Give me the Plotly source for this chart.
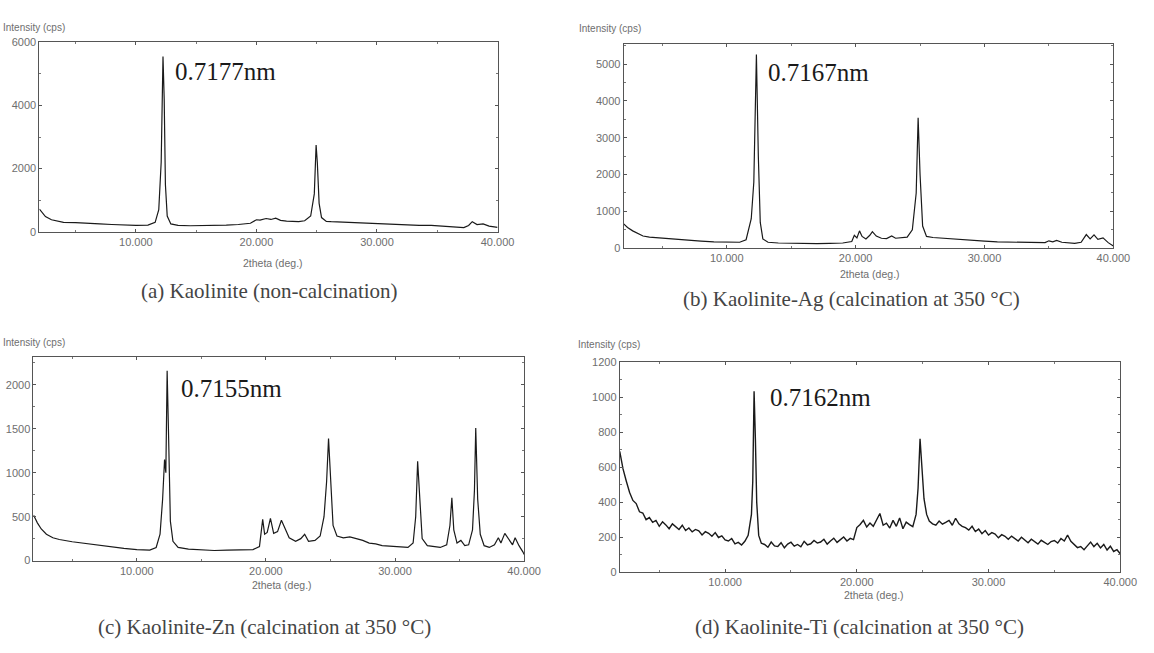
import plotly.graph_objects as go

# ---------------- data ----------------
two_theta_a = [2.0, 2.2, 2.5, 3.0, 3.5, 4.0, 5.0, 6.0, 7.0, 8.0, 9.0, 10.0, 11.0, 11.6, 11.9, 12.1, 12.25, 12.35,
               12.45, 12.6, 12.9, 13.5, 14.5, 15.5, 16.5, 17.5, 18.5, 19.5, 20.0, 20.3, 20.8, 21.2, 21.6, 22.0,
               22.5, 23.0, 23.5, 24.0, 24.5, 24.8, 24.95, 25.05, 25.2, 25.4, 25.8, 26.2, 26.8, 27.5, 28.5, 29.5,
               30.5, 31.5, 32.5, 33.5, 34.5, 35.5, 36.5, 37.2, 37.6, 37.9, 38.3, 38.8, 39.3, 39.8, 40.0]
intensity_a = [720, 620, 480, 380, 330, 300, 290, 280, 250, 230, 210, 200, 210, 300, 700, 2200, 5550, 4200,
               1500, 500, 250, 200, 190, 190, 200, 210, 230, 270, 380, 370, 420, 390, 430, 360,
               340, 330, 320, 350, 500, 1200, 2750, 2200, 900, 450, 330, 320, 310, 290, 270, 260,
               240, 230, 220, 200, 200, 170, 150, 130, 200, 320, 230, 250, 180, 150, 140]

two_theta_b = [2.0, 2.3, 2.7, 3.0, 3.5, 4.0, 5.0, 6.0, 7.0, 8.0, 9.0, 10.0, 11.0, 11.5, 11.9, 12.1, 12.3, 12.45,
               12.6, 12.8, 13.2, 14.0, 15.0, 16.0, 17.0, 18.0, 19.0, 19.7, 19.9, 20.1, 20.3, 20.5, 20.8, 21.1,
               21.3, 21.6, 22.0, 22.4, 22.8, 23.1, 23.5, 24.0, 24.4, 24.7, 24.85, 25.0, 25.2, 25.5, 26.0, 27.0,
               28.0, 29.0, 30.0, 31.0, 32.0, 33.0, 34.0, 34.7, 35.0, 35.3, 35.6, 36.0, 37.0, 37.5, 37.9, 38.2,
               38.5, 38.8, 39.2, 39.6, 40.0]
intensity_b = [660, 560, 470, 420, 330, 300, 270, 250, 220, 190, 170, 160, 160, 230, 800, 1800, 5260, 2500,
               700, 250, 160, 140, 130, 125, 125, 130, 140, 180, 350, 280, 470, 320, 250, 350,
               450, 330, 270, 260, 330, 270, 280, 300, 500, 1500, 3540, 2000, 600, 320, 290, 260,
               230, 210, 190, 170, 160, 150, 140, 150, 200, 170, 210, 160, 130, 160, 370, 250,
               360, 240, 280, 150, 60]

two_theta_c = [2.0, 2.3, 2.6, 3.0, 3.5, 4.0, 5.0, 6.0, 7.0, 8.0, 9.0, 10.0, 11.0, 11.5, 11.8, 12.0, 12.15, 12.25,
               12.35, 12.45, 12.6, 12.8, 13.2, 14.0, 15.0, 16.0, 17.0, 18.0, 19.0, 19.5, 19.75, 19.9, 20.1, 20.35,
               20.6, 20.9, 21.2, 21.5, 21.8, 22.3, 22.7, 23.0, 23.3, 23.8, 24.2, 24.5, 24.7, 24.85, 25.0, 25.2,
               25.5, 26.0, 26.5, 27.0, 27.5, 28.0, 28.5, 29.0, 30.0, 31.0, 31.4, 31.6, 31.75, 31.9, 32.1, 32.5,
               33.0, 33.5, 34.0, 34.25, 34.4, 34.55, 34.8, 35.1, 35.4, 35.7, 36.0, 36.15, 36.25, 36.4, 36.6, 36.9,
               37.3, 37.7, 38.0, 38.2, 38.5, 38.8, 39.1, 39.3, 39.6, 39.9, 40.0]
intensity_c = [520, 430, 360, 300, 260, 240, 215, 195, 175, 155, 140, 125, 120, 150, 300, 700, 1150, 1000,
               2160, 1500, 450, 220, 150, 130, 120, 115, 120, 120, 125, 160, 470, 300, 320, 480,
               310, 330, 460, 360, 260, 220, 250, 300, 220, 230, 280, 500, 900, 1390, 900, 400,
               280, 260, 270, 250, 230, 200, 190, 170, 160, 150, 200, 500, 1130, 700, 250, 170,
               160, 150, 180, 400, 715, 350, 200, 230, 170, 180, 350, 800, 1510, 700, 300, 170,
               150, 180, 260, 200, 310, 250, 180, 260, 170, 100, 70]

two_theta_d = [2.0, 2.25, 2.5, 2.75, 3.0, 3.25, 3.5, 3.75, 4.0, 4.25, 4.5, 4.75, 5.0, 5.25, 5.5, 5.75, 6.0, 6.25,
               6.5, 6.75, 7.0, 7.25, 7.5, 7.75, 8.0, 8.25, 8.5, 8.75, 9.0, 9.25, 9.5, 9.75, 10.0, 10.25, 10.5,
               10.75, 11.0, 11.25, 11.5, 11.75, 12.0, 12.1, 12.2, 12.3, 12.4, 12.55, 12.75, 13.0, 13.25, 13.5,
               13.75, 14.0, 14.25, 14.5, 14.75, 15.0, 15.25, 15.5, 15.75, 16.0, 16.25, 16.5, 16.75, 17.0, 17.25,
               17.5, 17.75, 18.0, 18.25, 18.5, 18.75, 19.0, 19.25, 19.5, 19.75, 20.0, 20.25, 20.5, 20.75, 21.0,
               21.25, 21.5, 21.75, 22.0, 22.25, 22.5, 22.75, 23.0, 23.25, 23.5, 23.75, 24.0, 24.25, 24.5, 24.65,
               24.8, 24.95, 25.1, 25.3, 25.5, 25.75, 26.0, 26.25, 26.5, 26.75, 27.0, 27.25, 27.5, 27.75, 28.0,
               28.25, 28.5, 28.75, 29.0, 29.25, 29.5, 29.75, 30.0, 30.25, 30.5, 30.75, 31.0, 31.25, 31.5, 31.75,
               32.0, 32.25, 32.5, 32.75, 33.0, 33.25, 33.5, 33.75, 34.0, 34.25, 34.5, 34.75, 35.0, 35.25, 35.5,
               35.75, 36.0, 36.25, 36.5, 36.75, 37.0, 37.25, 37.5, 37.75, 38.0, 38.25, 38.5, 38.75, 39.0, 39.25,
               39.5, 39.75, 40.0]
intensity_d = [690, 590, 520, 455, 410, 392, 345, 338, 300, 312, 285, 296, 262, 288, 270, 248, 276, 258,
               244, 268, 238, 252, 230, 244, 236, 212, 231, 222, 205, 226, 198, 207, 184, 178, 192,
               162, 170, 155, 176, 210, 330, 520, 1035, 760, 400, 210, 165, 158, 142, 172,
               150, 146, 168, 139, 160, 171, 148, 158, 145, 176, 156, 162, 181, 166, 172,
               188, 160, 178, 194, 170, 184, 201, 178, 193, 186, 255, 272, 296, 258, 281,
               262, 300, 335, 268, 280, 252, 296, 262, 310, 248, 286, 272, 260, 330, 480,
               763, 600, 420, 330, 292, 276, 268, 292, 274, 284, 296, 268, 308, 276, 262,
               254, 240, 262, 232, 246, 220, 238, 212, 226, 218, 196, 214, 205, 188, 206,
               192, 178, 199, 182, 168, 188, 172, 160, 182, 170, 158, 175, 181, 166, 192,
               178, 212, 176, 155, 140, 146, 128, 150, 172, 146, 165, 138, 158, 126, 148,
               118, 128, 105]

x_tick_vals = [10, 20, 30, 40]
x_tick_text = ["10.000", "20.000", "30.000", "40.000"]
y_ticks_a = [0, 2000, 4000, 6000]
y_ticks_b = [0, 1000, 2000, 3000, 4000, 5000]
y_ticks_c = [0, 500, 1000, 1500, 2000]
y_ticks_d = [0, 200, 400, 600, 800, 1000, 1200]

peak_labels = ["0.7177nm", "0.7167nm", "0.7155nm", "0.7162nm"]
captions = ["(a) Kaolinite (non-calcination)",
            "(b) Kaolinite-Ag (calcination at 350 °C)",
            "(c) Kaolinite-Zn (calcination at 350 °C)",
            "(d) Kaolinite-Ti (calcination at 350 °C)"]

# ---------------- figure ----------------
W, H = 1154, 653
fig = go.Figure()

panels = [
    (two_theta_a, intensity_a, y_ticks_a, [0, 6000], (40, 505), (37, 230), 1000, 1.2),
    (two_theta_b, intensity_b, y_ticks_b, [0, 5540], (633, 1130), (39, 246.7), 500, 1.2),
    (two_theta_c, intensity_c, y_ticks_c, [0, 2313], (34, 532), (358, 565), 250, 1.2),
    (two_theta_d, intensity_d, y_ticks_d, [0, 1200], (629, 1137), (363, 576.7), 100, 1.4),
]

gray = "#6e6e6e"
tickfont = dict(family="Liberation Sans", size=11, color=gray)
for i, (xs, ys, yt, yr, xd, yd, ymin, lw) in enumerate(panels):
    n = "" if i == 0 else str(i + 1)
    fig.add_trace(go.Scatter(x=xs, y=ys, mode="lines",
                             line=dict(color="#1a1a1a", width=lw),
                             xaxis="x" + n, yaxis="y" + n, showlegend=False))
    xdom = [xd[0] / W, xd[1] / W]
    ydom = [1 - yd[1] / H, 1 - yd[0] / H]
    fig.layout["xaxis" + n] = dict(
        domain=xdom, range=[2, 40], anchor="y" + n,
        tickvals=x_tick_vals, ticktext=x_tick_text, tickfont=tickfont,
        showline=True, linecolor="#555", linewidth=1, mirror="allticks",
        ticks="inside", ticklen=3, tickcolor="#555",
        minor=dict(dtick=5, tick0=0, ticks="inside", ticklen=2, tickcolor="#777"),
        showgrid=False, zeroline=False,
    )
    fig.layout["yaxis" + n] = dict(
        domain=ydom, range=yr, anchor="x" + n,
        tickvals=yt, tickfont=tickfont,
        showline=True, linecolor="#555", linewidth=1, mirror="allticks",
        ticks="inside", ticklen=3, tickcolor="#555",
        minor=dict(dtick=ymin, tick0=0, ticks="inside", ticklen=2, tickcolor="#777"),
        showgrid=False, zeroline=False,
    )

annotations = []


def ann(text, px, py, xanchor, font):
    annotations.append(dict(text=text, xref="paper", yref="paper",
                            x=px / W, y=1 - py / H, xanchor=xanchor, yanchor="middle",
                            showarrow=False, font=font))


# y-axis titles above the top-left corner of each plot box
for (px, py, anc) in [(1, 22, "left"), (653, 23, "right"), (1, 343, "left"), (652, 345, "right")]:
    ann("Intensity (cps)", px, py, anc, dict(family="Liberation Sans", size=10, color=gray))
# x-axis titles
for (px, py) in [(277, 262), (883, 273), (286, 590), (887, 600)]:
    ann("2theta (deg.)", px, py, "center", dict(family="Liberation Sans", size=10.5, color=gray))
# peak d-spacing labels
for txt, (px, py) in zip(peak_labels, [(176, 67), (777, 68), (182, 390), (779, 399)]):
    ann(txt, px, py, "left", dict(family="Liberation Serif", size=25, color="#1a1a1a"))
# captions
for txt, (px, py) in zip(captions, [(274, 290), (864, 298), (268, 633), (872, 633)]):
    ann(txt, px, py, "center", dict(family="Liberation Serif", size=21, color="#444"))

fig.update_layout(width=W, height=H, margin=dict(l=0, r=0, t=0, b=0),
                  paper_bgcolor="white", plot_bgcolor="white",
                  annotations=annotations)

post = ("document.documentElement.style.overflow='hidden';"
        "document.body.style.margin='0';"
        "document.body.style.overflow='hidden';"
        "var gd=document.getElementById('{plot_id}');"
        "gd.parentElement.style.height='653px';"
        "gd.parentElement.style.overflow='hidden';")
fig.write_html("out.html", config={"displayModeBar": False}, post_script=post)
